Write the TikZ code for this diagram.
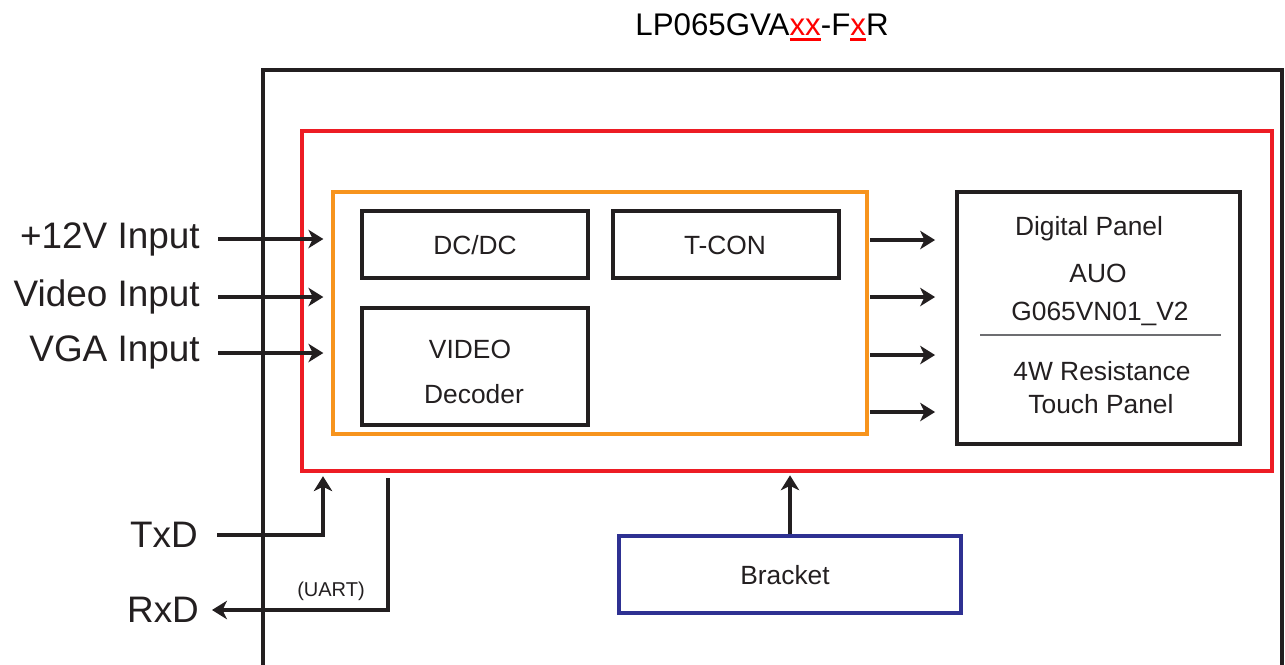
\documentclass[tikz,border=0pt]{standalone}
\usepackage{fontspec}
\setmainfont{Liberation Sans}
\usetikzlibrary{arrows.meta,fit}
\definecolor{ink}{HTML}{231F20}
\definecolor{redbox}{HTML}{ED1C24}
\definecolor{orangebox}{HTML}{F7941D}
\definecolor{bluebox}{HTML}{2E3192}
\definecolor{titlered}{HTML}{FF0000}
\definecolor{divider}{HTML}{6D6E71}
\newcommand\redul[1]{{\color{titlered}\setbox0\hbox{#1}\rlap{\rule[-3.4pt]{\wd0}{1.5pt}}\box0}}
\begin{document}
\begin{tikzpicture}[x=0.02cm,y=-0.02cm,
  box/.style={draw=ink, line width=2.2pt, rectangle, inner sep=0pt},
  frame/.style={line width=1.9pt, rectangle, inner sep=0pt},
  arr/.style={draw=ink, line width=2.2pt, -{Stealth[length=8.5pt,width=10.5pt,inset=2.5pt]}},
  lbl/.style={text=ink, font=\fontsize{21}{25}\selectfont, inner sep=0pt},
  btxt/.style={text=ink, font=\fontsize{15}{18}\selectfont, inner sep=0pt},
]
\useasboundingbox (0,0) rectangle (1285,664);
\begin{scope}
  \clip (0,0) rectangle (1285,664);
  \draw[ink, line width=1.9pt] (263,700) -- (263,70) -- (1282,70) -- (1282,700);
\end{scope}

% title
\node[anchor=base, text=black, font=\fontsize{17.8}{21}\selectfont, inner sep=0pt] (title) at (762,35)
  {LP065GVA\redul{xx}-F\redul{x}R};

% frames
\node[frame, draw=redbox, fit={(302,131) (1272,471)}] (red) {};
\node[frame, draw=orangebox, fit={(333,192) (867,434)}] (orange) {};

% inner boxes
\node[box, fit={(362,211) (588,278)}] (dcdc) {};
\node[btxt, anchor=base] (dcdct) at (475,254) {DC/DC};
\node[box, fit={(613,211) (839,278)}] (tcon) {};
\node[btxt, anchor=base] (tcont) at (725,254) {T-CON};
\node[box, fit={(362,308) (588,425)}] (video) {};
\node[btxt, anchor=base] (videot) at (470,358) {VIDEO};
\node[btxt, anchor=base] (decodert) at (474,403) {Decoder};

% panel
\node[box, fit={(957,192) (1240,444)}] (panel) {};
\node[btxt, anchor=base] (p1) at (1089,235) {Digital Panel};
\node[btxt, anchor=base] (p2) at (1098,282) {AUO};
\node[btxt, anchor=base] (p3) at (1100,320) {G065VN01\_V2};
\draw[divider, line width=0.6pt] (980,335) -- (1221,335);
\node[btxt, anchor=base] (p4) at (1102,380) {4W Resistance};
\node[btxt, anchor=base] (p5) at (1101,413) {Touch Panel};

% bracket
\node[frame, draw=bluebox, fit={(619,536) (961,613)}] (bracket) {};
\node[btxt, anchor=base] (brackett) at (785,584) {Bracket};
\draw[arr, shorten >=1.5pt] (bracket.north) -- (bracket.north |- red.south);

% inputs
\node[lbl, anchor=base east] (in1) at (200,248) {+12V Input};
\node[lbl, anchor=base east] (in2) at (200,306) {Video Input};
\node[lbl, anchor=base east] (in3) at (200,361) {VGA Input};
\foreach \y/\n in {239/a,297/b,353/c}{
  \coordinate (s\n) at (218,\y);
  \draw[arr, shorten >=0.16cm] (s\n) -- (orange.west |- s\n);
}

% outputs
\foreach \y/\n in {240/a,297/b,355/c,412/d}{
  \coordinate (o\n) at (870,\y);
  \draw[arr, shorten >=0.4cm] (o\n) -- (panel.west |- o\n);
}

% TxD / RxD
\node[lbl, anchor=base] (txd) at (164,547) {TxD};
\node[lbl, anchor=base] (rxd) at (163,622) {RxD};
\coordinate (txs) at (217,535);
\coordinate (txc) at (323,535);
\draw[arr, shorten >=2pt] (txs) -- (txc) -- (txc |- red.south);
\coordinate (rxs) at (388,478);
\coordinate (rxc) at (388,610);
\coordinate (rxe) at (212,610);
\draw[arr] (rxs) -- (rxc) -- (rxe);
\node[text=ink, font=\fontsize{11.4}{13}\selectfont, inner sep=0pt] (uart) at (331,591) {(UART)};
\end{tikzpicture}
\end{document}
